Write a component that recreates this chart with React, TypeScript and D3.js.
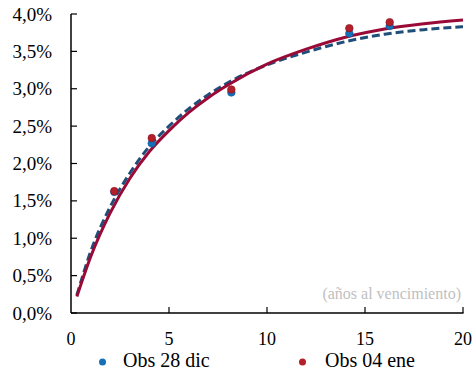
import React from "react";
import * as d3 from "d3";

// Observed yields (maturity in years, yield in %)
const obsMaturities = [2.21, 4.12, 8.18, 14.2, 16.26];
const obsDic28 = [1.62, 2.27, 2.95, 3.74, 3.84];
const obsEne04 = [1.63, 2.34, 2.99, 3.81, 3.89];

// Fitted curves
const curveMaturities = [0.3, 1, 2, 3, 4, 5, 6, 7, 8, 10, 12, 14, 16, 18, 20];
const curveDic28 = [0.24, 0.82, 1.42, 1.87, 2.23, 2.5, 2.73, 2.92, 3.08, 3.32, 3.49, 3.63, 3.73, 3.79, 3.83];
const curveEne04 = [0.22, 0.75, 1.34, 1.8, 2.16, 2.44, 2.68, 2.88, 3.05, 3.33, 3.53, 3.69, 3.8, 3.87, 3.92];

const xTicks = [0, 5, 10, 15, 20];
const yTicks = [0, 0.5, 1, 1.5, 2, 2.5, 3, 3.5, 4];
const seriesNames = ["Obs 28 dic", "Obs 04 ene"];
const axisNote = "(años al vencimiento)";

const W = 473;
const H = 373;
const BLUE_DOT = "#1470b8";
const RED_DOT = "#b3202a";
const BLUE_LINE = "#1f4e79";
const RED_LINE = "#990a36";
const FONT = '"Liberation Serif", "DejaVu Serif", serif';

const esLocale = d3.formatLocale({ decimal: ",", thousands: ".", grouping: [3], currency: ["", "€"] });
const fmt = esLocale.format(".1f");

const ts = { fontFamily: FONT };

export default function App() {
  const x = d3.scaleLinear().domain([0, 20]).range([71, 463]);
  const y = d3.scaleLinear().domain([0, 4]).range([313, 14]);

  const line = d3
    .line<number>()
    .x((_, i) => x(curveMaturities[i]))
    .y((d) => y(d))
    .curve(d3.curveMonotoneX);

  const x0 = x(0);
  const y0 = y(0);

  return (
    <svg
      width={W}
      height={H}
      style={{ position: "absolute", left: 0, top: 0, background: "#fff", fontFamily: FONT }}
    >
      {/* curves */}
      <path d={line(curveDic28) || ""} fill="none" stroke={BLUE_LINE} strokeWidth={3} strokeDasharray="8,4" />
      <path d={line(curveEne04) || ""} fill="none" stroke={RED_LINE} strokeWidth={3} />

      {/* dots */}
      {obsMaturities.map((m, i) => (
        <circle key={"b" + i} cx={x(m)} cy={y(obsDic28[i])} r={3.8} fill={BLUE_DOT} stroke="#0d5a99" strokeWidth={0.6} />
      ))}
      {obsMaturities.map((m, i) => (
        <circle key={"r" + i} cx={x(m)} cy={y(obsEne04[i])} r={3.8} fill={RED_DOT} stroke="#8a1020" strokeWidth={0.6} />
      ))}

      {/* axes */}
      <line x1={x0} x2={x0} y1={y(4)} y2={y0} stroke="#000" strokeWidth={1.5} />
      <line x1={x0} x2={x(20) + 0.5} y1={y0} y2={y0} stroke="#000" strokeWidth={1.5} />
      {yTicks.map((t) => (
        <g key={"yt" + t}>
          <line x1={x0} x2={x0 + 6} y1={y(t)} y2={y(t)} stroke="#000" strokeWidth={1.2} />
          <text x={52} y={y(t) + 6.5} textAnchor="end" fontSize={19} fill="#000" style={ts}>
            {fmt(t) + "%"}
          </text>
        </g>
      ))}
      {xTicks.map((t) => (
        <g key={"xt" + t}>
          {t > 0 && <line x1={x(t)} x2={x(t)} y1={y0} y2={y0 - 6} stroke="#000" strokeWidth={1.2} />}
          <text x={x(t)} y={345} textAnchor="middle" fontSize={18} fill="#000" style={ts}>
            {t}
          </text>
        </g>
      ))}

      <text x={461} y={299} textAnchor="end" fontSize={16} fill="#bfbfbf" style={ts}>
        {axisNote}
      </text>

      {/* legend */}
      <circle cx={102.5} cy={362} r={3.5} fill={BLUE_DOT} />
      <text x={123} y={367} fontSize={20} fill="#000" style={ts}>{seriesNames[0]}</text>
      <circle cx={302.5} cy={362} r={3.5} fill={RED_DOT} />
      <text x={325} y={367} fontSize={20} fill="#000" style={ts}>{seriesNames[1]}</text>
    </svg>
  );
}
